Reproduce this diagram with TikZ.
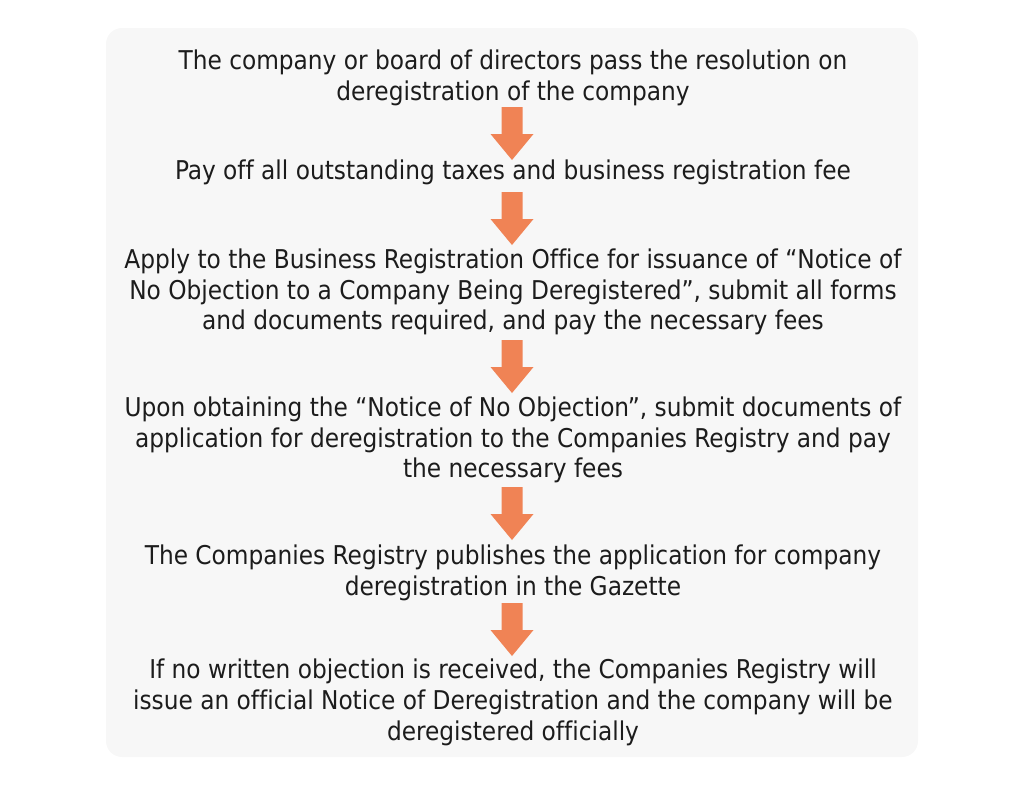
\documentclass[tikz,border=0pt]{standalone}
\usepackage{fontspec}
\setmainfont{DejaVu Sans Condensed}[Ligatures=NoCommon]
\definecolor{boxgray}{RGB}{247,247,247}
\definecolor{arroworange}{RGB}{240,131,85}
\definecolor{txt}{RGB}{28,28,28}
\begin{document}
\begin{tikzpicture}[x=0.75pt,y=-0.75pt,
  stepbox/.style={anchor=north,inner sep=0pt,align=center,text=txt,
    font=\fontsize{19.4}{23.1}\selectfont},
  dnarrow/.pic={\fill[arroworange] (-10.5,0) -- (10.5,0) -- (10.5,27) -- (21.5,27)
     -- (0,53) -- (-21.5,27) -- (-10.5,27) -- cycle;}]
\useasboundingbox (0,0) rectangle (1024,790);
\fill[boxgray,rounded corners=12pt] (106,28) rectangle (918,757);
\node[stepbox] (s1) at (513,47.5) {\strut The company or board of directors pass the resolution on\\\strut deregistration of the company};
\node[stepbox] (s2) at (513,157.5) {\strut Pay off all outstanding taxes and business registration fee};
\node[stepbox] (s3) at (513,246.5) {\strut Apply to the Business Registration Office for issuance of “Notice of\\\strut No Objection to a Company Being Deregistered”, submit all forms\\\strut and documents required, and pay the necessary fees};
\node[stepbox] (s4) at (513,394.5) {\strut Upon obtaining the “Notice of No Objection”, submit documents of\\\strut application for deregistration to the Companies Registry and pay\\\strut the necessary fees};
\node[stepbox] (s5) at (513,542.5) {\strut The Companies Registry publishes the application for company\\\strut deregistration in the Gazette};
\node[stepbox] (s6) at (513,657) {\strut If no written objection is received, the Companies Registry will\\\strut issue an official Notice of Deregistration and the company will be\\\strut deregistered officially};
\pic at (512,107) {dnarrow};
\pic at (512,192) {dnarrow};
\pic at (512,340) {dnarrow};
\pic at (512,487) {dnarrow};
\pic at (512,603) {dnarrow};
\end{tikzpicture}
\end{document}
